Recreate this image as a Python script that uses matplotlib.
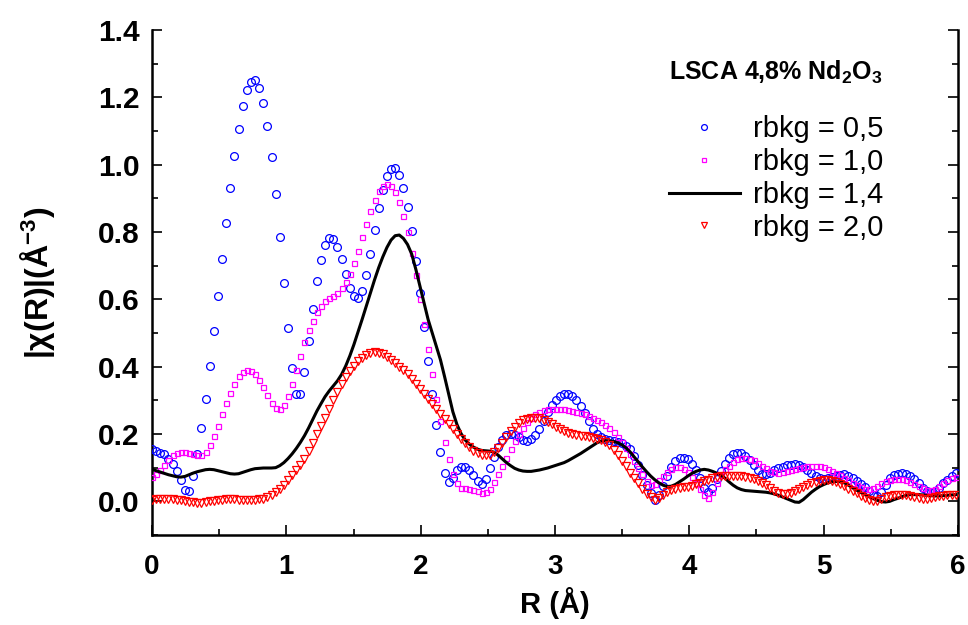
import numpy as np
import matplotlib
matplotlib.use("Agg")
import matplotlib.pyplot as plt
from matplotlib.ticker import MultipleLocator, FormatStrFormatter

# |chi(R)| magnitudes of the Fourier transform, sampled on the standard FFT grid
dR = np.pi / 102.4

rbkg_05 = [0.155, 0.149, 0.145, 0.140, 0.127, 0.112, 0.091, 0.063, 0.035, 0.031,
           0.076, 0.141, 0.218, 0.303, 0.402, 0.505, 0.611, 0.721, 0.828, 0.931,
           1.025, 1.107, 1.173, 1.221, 1.246, 1.251, 1.229, 1.184, 1.114, 1.022,
           0.912, 0.785, 0.650, 0.515, 0.395, 0.320, 0.319, 0.383, 0.477, 0.572,
           0.654, 0.718, 0.761, 0.781, 0.778, 0.755, 0.719, 0.676, 0.635, 0.609,
           0.603, 0.626, 0.673, 0.736, 0.805, 0.870, 0.924, 0.965, 0.987, 0.989,
           0.970, 0.931, 0.873, 0.802, 0.714, 0.620, 0.518, 0.418, 0.319, 0.228,
           0.147, 0.085, 0.057, 0.069, 0.092, 0.101, 0.102, 0.093, 0.077, 0.060,
           0.052, 0.065, 0.098, 0.133, 0.162, 0.183, 0.196, 0.201, 0.198, 0.190,
           0.182, 0.180, 0.184, 0.196, 0.215, 0.240, 0.264, 0.285, 0.301, 0.312,
           0.318, 0.318, 0.312, 0.300, 0.283, 0.261, 0.238, 0.216, 0.200, 0.190,
           0.184, 0.181, 0.179, 0.176, 0.172, 0.165, 0.155, 0.135, 0.107, 0.078,
           0.050, 0.025, 0.005, 0.018, 0.045, 0.075, 0.103, 0.120, 0.128, 0.130,
           0.125, 0.112, 0.092, 0.068, 0.040, 0.028, 0.040, 0.065, 0.090, 0.112,
           0.128, 0.140, 0.145, 0.143, 0.135, 0.122, 0.108, 0.092, 0.082, 0.080,
           0.083, 0.092, 0.098, 0.103, 0.107, 0.109, 0.110, 0.107, 0.102, 0.094,
           0.084, 0.074, 0.068, 0.066, 0.068, 0.072, 0.076, 0.079, 0.080, 0.076,
           0.069, 0.060, 0.052, 0.042, 0.030, 0.020, 0.016, 0.028, 0.050, 0.068,
           0.077, 0.082, 0.083, 0.080, 0.075, 0.066, 0.055, 0.041, 0.031, 0.027,
           0.030, 0.040, 0.053, 0.064, 0.074, 0.085]

rbkg_10 = [0.072, 0.080, 0.094, 0.109, 0.124, 0.137, 0.144, 0.147, 0.147, 0.144,
           0.140, 0.137, 0.139, 0.147, 0.167, 0.193, 0.225, 0.260, 0.292, 0.323,
           0.350, 0.371, 0.384, 0.389, 0.387, 0.378, 0.361, 0.339, 0.315, 0.292,
           0.277, 0.274, 0.285, 0.312, 0.348, 0.389, 0.431, 0.472, 0.508, 0.537,
           0.561, 0.581, 0.594, 0.603, 0.610, 0.619, 0.633, 0.651, 0.676, 0.707,
           0.745, 0.785, 0.825, 0.862, 0.894, 0.921, 0.936, 0.942, 0.936, 0.919,
           0.889, 0.849, 0.800, 0.739, 0.673, 0.601, 0.527, 0.451, 0.378, 0.304,
           0.238, 0.176, 0.125, 0.082, 0.054, 0.040, 0.039, 0.038, 0.035, 0.030,
           0.026, 0.027, 0.038, 0.057, 0.080, 0.106, 0.130, 0.155, 0.179, 0.201,
           0.219, 0.235, 0.248, 0.258, 0.265, 0.270, 0.273, 0.274, 0.274, 0.274,
           0.273, 0.271, 0.269, 0.266, 0.262, 0.258, 0.254, 0.249, 0.243, 0.236,
           0.228, 0.218, 0.206, 0.192, 0.176, 0.158, 0.140, 0.120, 0.100, 0.080,
           0.061, 0.050, 0.052, 0.062, 0.074, 0.086, 0.096, 0.101, 0.101, 0.096,
           0.086, 0.072, 0.055, 0.038, 0.020, 0.010, 0.028, 0.053, 0.077, 0.095,
           0.104, 0.117, 0.125, 0.128, 0.128, 0.126, 0.122, 0.114, 0.106, 0.098,
           0.091, 0.087, 0.085, 0.086, 0.089, 0.093, 0.097, 0.100, 0.103, 0.105,
           0.105, 0.105, 0.104, 0.101, 0.097, 0.091, 0.084, 0.077, 0.069, 0.062,
           0.055, 0.048, 0.042, 0.038, 0.037, 0.040, 0.047, 0.054, 0.059, 0.063,
           0.065, 0.066, 0.065, 0.062, 0.058, 0.052, 0.046, 0.040, 0.035, 0.034,
           0.038, 0.046, 0.055, 0.062, 0.068, 0.073]

rbkg_14 = [0.095, 0.091, 0.087, 0.083, 0.079, 0.076, 0.073, 0.072, 0.074, 0.079,
           0.084, 0.088, 0.091, 0.094, 0.095, 0.094, 0.091, 0.088, 0.085, 0.082,
           0.081, 0.082, 0.086, 0.090, 0.094, 0.097, 0.098, 0.099, 0.099, 0.099,
           0.100, 0.106, 0.115, 0.127, 0.141, 0.157, 0.175, 0.195, 0.218, 0.243,
           0.268, 0.290, 0.311, 0.328, 0.343, 0.358, 0.377, 0.402, 0.432, 0.466,
           0.503, 0.541, 0.580, 0.620, 0.658, 0.694, 0.726, 0.754, 0.776, 0.789,
           0.791, 0.781, 0.763, 0.735, 0.690, 0.640, 0.590, 0.540, 0.500, 0.460,
           0.420, 0.370, 0.318, 0.266, 0.228, 0.201, 0.182, 0.170, 0.161, 0.155,
           0.151, 0.150, 0.149, 0.146, 0.137, 0.126, 0.115, 0.106, 0.098, 0.093,
           0.090, 0.089, 0.089, 0.091, 0.093, 0.096, 0.099, 0.103, 0.107, 0.111,
           0.115, 0.121, 0.128, 0.135, 0.142, 0.150, 0.158, 0.166, 0.174, 0.179,
           0.180, 0.180, 0.178, 0.174, 0.168, 0.159, 0.147, 0.132, 0.117, 0.102,
           0.088, 0.075, 0.064, 0.055, 0.048, 0.044, 0.045, 0.050, 0.058, 0.066,
           0.075, 0.083, 0.089, 0.093, 0.095, 0.093, 0.089, 0.084, 0.078, 0.069,
           0.058, 0.048, 0.040, 0.035, 0.032, 0.031, 0.030, 0.029, 0.028, 0.027,
           0.025, 0.022, 0.018, 0.013, 0.008, 0.003, -0.002, -0.003, 0.005, 0.016,
           0.027, 0.036, 0.044, 0.050, 0.055, 0.058, 0.059, 0.058, 0.055, 0.048,
           0.040, 0.033, 0.026, 0.020, 0.014, 0.008, 0.003, -0.001, -0.002, 0.000,
           0.005, 0.009, 0.014, 0.018, 0.020, 0.020, 0.020, 0.019, 0.018, 0.017,
           0.016, 0.016, 0.017, 0.018, 0.019, 0.020]

rbkg_20 = [0.005, 0.006, 0.007, 0.008, 0.008, 0.007, 0.005, 0.003, 0.001, -0.001,
           -0.003, -0.004, -0.004, -0.002, 0.000, 0.002, 0.004, 0.005, 0.006, 0.006,
           0.006, 0.005, 0.004, 0.004, 0.004, 0.005, 0.006, 0.008, 0.013, 0.020,
           0.028, 0.038, 0.050, 0.063, 0.077, 0.092, 0.108, 0.127, 0.150, 0.174,
           0.199, 0.223, 0.248, 0.274, 0.300, 0.325, 0.348, 0.368, 0.386, 0.402,
           0.416, 0.427, 0.436, 0.441, 0.443, 0.441, 0.437, 0.430, 0.421, 0.411,
           0.400, 0.389, 0.377, 0.364, 0.350, 0.335, 0.320, 0.305, 0.290, 0.275,
           0.260, 0.245, 0.230, 0.215, 0.200, 0.186, 0.172, 0.160, 0.150, 0.143,
           0.139, 0.137, 0.139, 0.146, 0.158, 0.174, 0.192, 0.208, 0.222, 0.233,
           0.241, 0.246, 0.249, 0.249, 0.247, 0.243, 0.237, 0.229, 0.221, 0.214,
           0.208, 0.203, 0.199, 0.197, 0.195, 0.193, 0.191, 0.189, 0.186, 0.183,
           0.177, 0.166, 0.152, 0.137, 0.120, 0.104, 0.085, 0.068, 0.053, 0.038,
           0.023, 0.012, 0.004, 0.010, 0.020, 0.028, 0.034, 0.038, 0.040, 0.042,
           0.044, 0.047, 0.051, 0.055, 0.059, 0.064, 0.068, 0.072, 0.074, 0.075,
           0.076, 0.076, 0.076, 0.075, 0.073, 0.070, 0.066, 0.061, 0.055, 0.048,
           0.040, 0.032, 0.025, 0.021, 0.021, 0.024, 0.030, 0.037, 0.044, 0.050,
           0.055, 0.058, 0.061, 0.062, 0.062, 0.060, 0.056, 0.051, 0.045, 0.038,
           0.031, 0.024, 0.016, 0.009, 0.004, 0.001, 0.002, 0.007, 0.013, 0.017,
           0.019, 0.020, 0.020, 0.018, 0.016, 0.012, 0.009, 0.008, 0.008, 0.010,
           0.012, 0.015, 0.017, 0.018, 0.018, 0.018]

labels = ["rbkg = 0,5", "rbkg = 1,0", "rbkg = 1,4", "rbkg = 2,0"]
sample_title = r"LSCA 4,8% Nd$_2$O$_3$"

R = np.arange(len(rbkg_05)) * dR

plt.rcParams["font.family"] = ["Liberation Sans", "DejaVu Sans"]
plt.rcParams["mathtext.fontset"] = "custom"
plt.rcParams["mathtext.rm"] = "Liberation Sans:bold"
plt.rcParams["mathtext.it"] = "Liberation Sans:bold"
plt.rcParams["mathtext.bf"] = "Liberation Sans:bold"

fig = plt.figure(figsize=(9.68, 6.25), dpi=100)
ax = fig.add_axes([152 / 968, 90 / 625, 806 / 968, 505 / 625])

ax.plot(R, rbkg_05, linestyle="none", marker="o", markersize=5.6,
        markerfacecolor="none", markeredgecolor="#0000FF", markeredgewidth=0.9,
        label=labels[0], zorder=3)
ax.plot(R, rbkg_10, linestyle="none", marker="s", markersize=3.6,
        markerfacecolor="none", markeredgecolor="#FF00FF", markeredgewidth=0.9,
        label=labels[1], zorder=4)
ax.plot(R, rbkg_14, color="black", linewidth=2.2, label=labels[2], zorder=5)
ax.plot(R, rbkg_20, linestyle="none", marker="v", markersize=5.8,
        markerfacecolor="none", markeredgecolor="#FF0000", markeredgewidth=0.9,
        label=labels[3], zorder=6)

ax.set_xlim(0, 6)
ax.set_ylim(-0.1, 1.4)
ax.xaxis.set_major_locator(MultipleLocator(1))
ax.xaxis.set_minor_locator(MultipleLocator(0.5))
ax.yaxis.set_major_locator(MultipleLocator(0.2))
ax.yaxis.set_minor_locator(MultipleLocator(0.1))
ax.yaxis.set_major_formatter(FormatStrFormatter("%.1f"))
ax.xaxis.set_major_formatter(FormatStrFormatter("%d"))

for side in ["left", "right", "bottom"]:
    ax.spines[side].set_linewidth(1.8)
ax.spines["top"].set_visible(False)

ax.tick_params(axis="both", which="both", direction="in", right=True, top=False)
ax.tick_params(axis="both", which="major", length=7, width=1.2)
ax.tick_params(axis="both", which="minor", length=4, width=1.2)
ax.tick_params(axis="y", which="major", pad=9)
ax.tick_params(axis="x", which="major", pad=14)
for lab in ax.get_xticklabels():
    lab.set_fontsize(20)
    lab.set_fontweight("bold")
for lab in ax.get_yticklabels():
    lab.set_fontsize(21.5)
    lab.set_fontweight("bold")

ax.set_xlabel("R (Å)", fontsize=21, fontweight="bold", labelpad=5)
ax.set_ylabel(r"|χ(R)|(Å$^{-3}$)", fontsize=23, fontweight="bold", labelpad=29)

leg = ax.legend(loc="upper left", bbox_to_anchor=(0.641, 0.943), frameon=False,
                fontsize=21, title=sample_title, markerscale=0.75,
                handlelength=2.45, handletextpad=0.45, labelspacing=0.165,
                borderpad=0, borderaxespad=0, alignment="left")
leg.get_title().set_fontsize(18)
leg.get_title().set_fontweight("bold")
leg._legend_box.sep = 21

fig.savefig("out.png", dpi=100)
